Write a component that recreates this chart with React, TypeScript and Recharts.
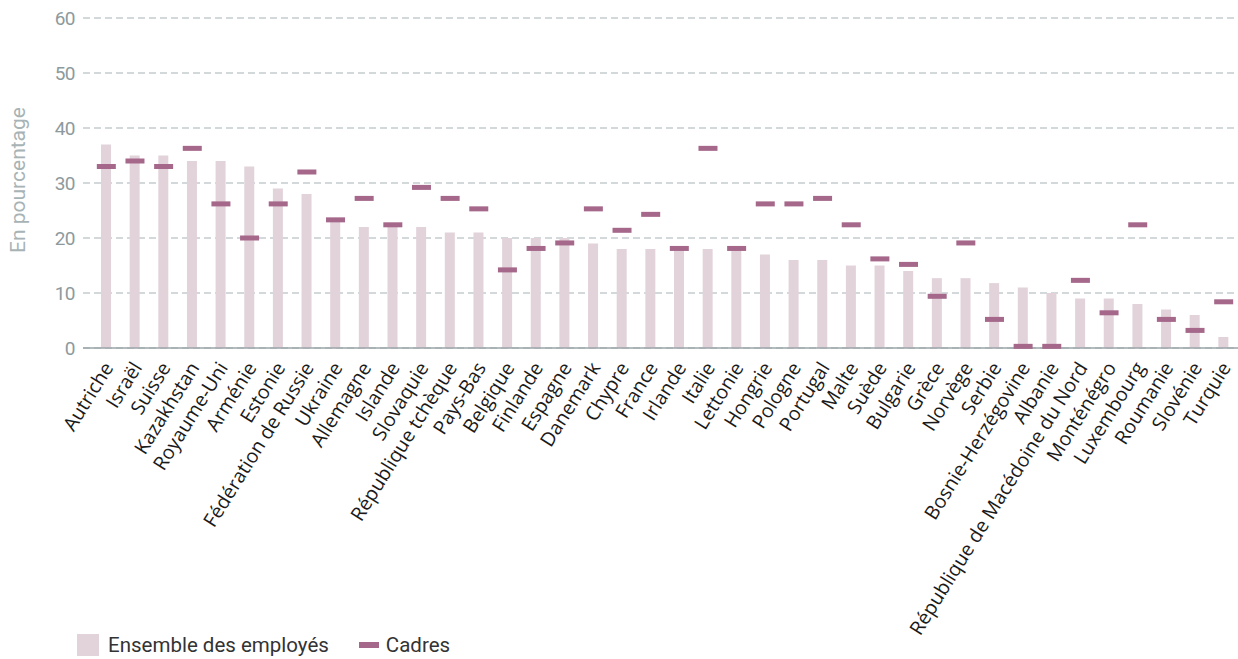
import { ComposedChart, Bar, Line, XAxis, YAxis, CartesianGrid } from 'recharts'

const countries = [
  'Autriche', 'Israël', 'Suisse', 'Kazakhstan', 'Royaume-Uni', 'Arménie', 'Estonie',
  'Fédération de Russie', 'Ukraine', 'Allemagne', 'Islande', 'Slovaquie', 'République tchèque',
  'Pays-Bas', 'Belgique', 'Finlande', 'Espagne', 'Danemark', 'Chypre', 'France', 'Irlande',
  'Italie', 'Lettonie', 'Hongrie', 'Pologne', 'Portugal', 'Malte', 'Suède', 'Bulgarie', 'Grèce',
  'Norvège', 'Serbie', 'Bosnie-Herzégovine', 'Albanie', 'République de Macédoine du Nord',
  'Monténégro', 'Luxembourg', 'Roumanie', 'Slovénie', 'Turquie'
]

const employes = [
  37, 35, 35, 34, 34, 33, 29, 28, 23, 22, 22, 22, 21, 21, 20, 20, 20, 19, 18, 18,
  18, 18, 18, 17, 16, 16, 15, 15, 14, 12.7, 12.7, 11.8, 11, 10, 9, 9, 8, 7, 6, 2
]

const cadres = [
  33, 34, 33, 36.3, 26.2, 20, 26.2, 32, 23.3, 27.2, 22.4, 29.2, 27.2, 25.3, 14.2, 18.1, 19.1, 25.3, 21.4, 24.3,
  18.1, 36.3, 18.1, 26.2, 26.2, 27.2, 22.4, 16.2, 15.2, 9.4, 19.1, 5.2, 0.3, 0.3, 12.3, 6.4, 22.4, 5.2, 3.2, 8.4
]

const yTicks = [0, 10, 20, 30, 40, 50, 60]

const data = countries.map((name, i) => ({ name, employes: employes[i], cadres: cadres[i] }))

const FONT = 'Roboto, "Noto Sans", sans-serif'
const LABEL_FONT = '"Open Sans", "Noto Sans", sans-serif'
const BAR = '#e2d3da'
const MARK = '#a5688a'

const CountryTick = ({ x, y, payload }: any) => (
  <g transform={`translate(${x + 2},${y + 8})`}>
    <text
      textAnchor="end"
      transform="rotate(-58)"
      dy="0.35em"
      fontSize={19.5}
      fill="#1a1a1a"
      fontFamily={LABEL_FONT}
    >
      {payload.value}
    </text>
  </g>
)

const Dash = ({ cx, cy }: any) => {
  if (cx == null || cy == null) return null
  return <rect x={cx - 9.5} y={cy - 2.5} width={19} height={5} fill={MARK} />
}

export default function App() {
  return (
    <div style={{ position: 'absolute', left: 0, top: 0, width: 1238, height: 659, background: '#fff', fontFamily: FONT }}>
      <ComposedChart
        width={1238}
        height={659}
        data={data}
        margin={{ top: 18, right: 0, bottom: 0, left: 0 }}
        style={{ overflow: 'visible' }}
      >
        <CartesianGrid vertical={false} stroke="#c5cdcf" strokeDasharray="7 4" strokeWidth={1.5} />
        <XAxis
          dataKey="name"
          interval={0}
          height={311}
          padding={{ left: 9, right: 0 }}
          tickLine={false}
          axisLine={{ stroke: '#9aa5a9', strokeWidth: 1.5 }}
          tick={<CountryTick />}
        />
        <YAxis
          width={83}
          domain={[0, 60]}
          ticks={yTicks}
          axisLine={false}
          tickLine={false}
          tickSize={0}
          tickMargin={8}
          tick={{ fontSize: 19, fill: '#8d9a9d', fontFamily: FONT, letterSpacing: -0.5 }}
        />
        <Bar dataKey="employes" fill={BAR} barSize={10} isAnimationActive={false} />
        <Line
          dataKey="cadres"
          stroke="none"
          dot={<Dash />}
          activeDot={false}
          isAnimationActive={false}
        />
        <text
          x={25}
          y={180}
          transform="rotate(-90 25 180)"
          textAnchor="middle"
          fontSize={21}
          fill="#a8b3b5"
          fontFamily={FONT}
        >
          En pourcentage
        </text>
      </ComposedChart>
      <div style={{ position: 'absolute', left: 77, top: 633, display: 'flex', alignItems: 'center', fontSize: 20.5, color: '#333' }}>
        <span style={{ display: 'inline-block', width: 22, height: 22, background: BAR, marginRight: 9 }} />
        <span>Ensemble des employés</span>
        <span style={{ display: 'inline-block', width: 20, height: 6, background: MARK, marginLeft: 30, marginRight: 7 }} />
        <span>Cadres</span>
      </div>
    </div>
  )
}
